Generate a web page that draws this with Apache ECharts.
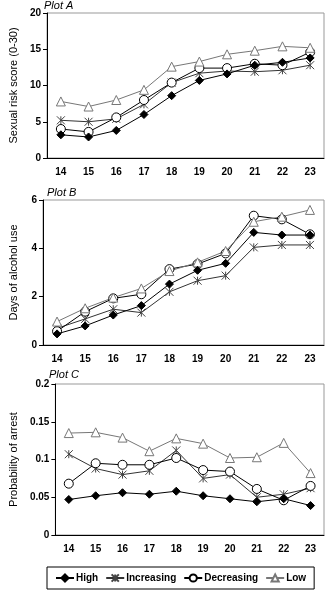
<!DOCTYPE html>
<html>
<head>
<meta charset="utf-8">
<script src="https://cdn.jsdelivr.net/npm/echarts@6/dist/echarts.min.js"></script>
<style>
  html, body { margin: 0; padding: 0; background: #fff; }
  #main { width: 332px; height: 592px; }
</style>
</head>
<body>
<div id="main"></div>
<script>
// ages on the x axis
var ages = ['14', '15', '16', '17', '18', '19', '20', '21', '22', '23'];

// Plot A - sexual risk score
var riskHigh = [3.2, 2.9, 3.8, 6.0, 8.6, 10.7, 11.6, 12.8, 13.2, 13.8];
var riskIncreasing = [5.2, 5.0, 5.4, 7.4, 10.4, 11.7, 12.0, 11.9, 12.1, 12.8];
var riskDecreasing = [4.0, 3.6, 5.6, 8.0, 10.4, 12.4, 12.4, 13.0, 12.8, 14.6];
var riskLow = [7.8, 7.1, 8.0, 9.4, 12.6, 13.3, 14.3, 14.8, 15.4, 15.2];

// Plot B - days of alcohol use
var alcHigh = [0.46, 0.79, 1.24, 1.63, 2.52, 3.09, 3.38, 4.66, 4.55, 4.55];
var alcIncreasing = [0.69, 1.08, 1.48, 1.34, 2.2, 2.66, 2.87, 4.04, 4.14, 4.14];
var alcDecreasing = [0.57, 1.38, 1.93, 2.1, 3.14, 3.35, 3.79, 5.35, 5.2, 4.58];
var alcLow = [0.97, 1.52, 1.96, 2.34, 3.06, 3.42, 3.89, 5.1, 5.31, 5.59];

// Plot C - probability of arrest
var arrHigh = [0.047, 0.052, 0.056, 0.054, 0.058, 0.052, 0.048, 0.044, 0.048, 0.039];
var arrIncreasing = [0.107, 0.088, 0.080, 0.085, 0.112, 0.075, 0.080, 0.050, 0.054, 0.062];
var arrDecreasing = [0.068, 0.095, 0.093, 0.093, 0.102, 0.086, 0.084, 0.061, 0.046, 0.065];
var arrLow = [0.135, 0.136, 0.129, 0.111, 0.128, 0.121, 0.102, 0.103, 0.122, 0.082];

var groups = ['High', 'Increasing', 'Decreasing', 'Low'];
var font = '"Liberation Sans", Arial, sans-serif';

// marker style for each trajectory group
var styles = {
  High: { symbol: 'diamond', size: 8, fill: '#000', stroke: '#000', line: '#000' },
  Increasing: { symbol: 'path://M0,0L10,10M10,0L0,10M5,0L5,10', size: 8, fill: 'rgba(0,0,0,0)', stroke: '#444', line: '#333' },
  Decreasing: { symbol: 'circle', size: 9, fill: '#fff', stroke: '#000', line: '#000' },
  Low: { symbol: 'triangle', size: 9, fill: '#fff', stroke: '#777', line: '#777' }
};

var grids = [
  { left: 42, right: 8, top: 13, height: 145 },
  { left: 42, right: 8, top: 200, height: 145 },
  { left: 42, right: 8, top: 384, height: 151 }
];

function makeX(i) {
  return {
    type: 'category', gridIndex: i, data: ages,
    axisLine: { lineStyle: { color: '#000' } },
    axisTick: { length: 4, lineStyle: { color: '#000' } },
    axisLabel: { color: '#000', fontWeight: 'bold', fontSize: 10, fontFamily: font, margin: 9 },
    splitLine: { show: false }
  };
}

function makeY(i, name, max, interval, gap) {
  return {
    type: 'value', gridIndex: i, min: 0, max: max, interval: interval,
    name: name, nameLocation: 'middle', nameGap: gap,
    nameTextStyle: { color: '#000', fontSize: 11, fontFamily: font },
    axisLine: { show: true, lineStyle: { color: '#000' } },
    axisTick: { show: true, length: 4, lineStyle: { color: '#000' } },
    axisLabel: { color: '#000', fontWeight: 'bold', fontSize: 10, fontFamily: font, margin: 6 },
    splitLine: { show: false }
  };
}

function makeSeries(i, name, data) {
  var s = styles[name];
  return {
    name: name, type: 'line', xAxisIndex: i, yAxisIndex: i, data: data,
    symbol: s.symbol, symbolSize: s.size, showAllSymbol: true,
    lineStyle: { color: s.line, width: 1 },
    itemStyle: { color: s.fill, borderColor: s.stroke, borderWidth: 1 },
    emphasis: { disabled: true },
    z: name === 'High' ? 4 : 3
  };
}

var series = [];
var sets = [
  [riskHigh, riskIncreasing, riskDecreasing, riskLow],
  [alcHigh, alcIncreasing, alcDecreasing, alcLow],
  [arrHigh, arrIncreasing, arrDecreasing, arrLow]
];
sets.forEach(function (set, i) {
  groups.forEach(function (g, j) {
    series.push(makeSeries(i, g, set[j]));
  });
});

var titleStyle = { fontSize: 11, fontStyle: 'italic', fontWeight: 'normal', color: '#000', fontFamily: font };

var chart = echarts.init(document.getElementById('main'), null, { renderer: 'canvas' });
chart.setOption({
  backgroundColor: '#fff',
  animation: false,
  title: [
    { text: 'Plot A', left: 44, top: 0, padding: 0, textStyle: titleStyle },
    { text: 'Plot B', left: 47, top: 187, padding: 0, textStyle: titleStyle },
    { text: 'Plot C', left: 49, top: 369, padding: 0, textStyle: titleStyle }
  ],
  legend: {
    data: groups,
    left: 47, top: 567,
    width: 285,
    padding: [6, 8, 6, 8],
    itemGap: 7,
    itemWidth: 18, itemHeight: 9,
    borderColor: '#000', borderWidth: 1,
    textStyle: { fontWeight: 'bold', fontSize: 10, color: '#000', fontFamily: font, padding: [0, 0, 0, -3] }
  },
  grid: grids.map(function (g) {
    return { left: g.left, right: g.right, top: g.top, height: g.height, show: true, borderColor: '#999', borderWidth: 1, backgroundColor: 'transparent' };
  }),
  xAxis: [makeX(0), makeX(1), makeX(2)],
  yAxis: [
    makeY(0, 'Sexual risk score (0-30)', 20, 5, 24),
    makeY(1, 'Days of alcohol use', 6, 2, 24),
    makeY(2, 'Probability of arrest', 0.2, 0.05, 29)
  ],
  series: series
});
</script>
</body>
</html>
